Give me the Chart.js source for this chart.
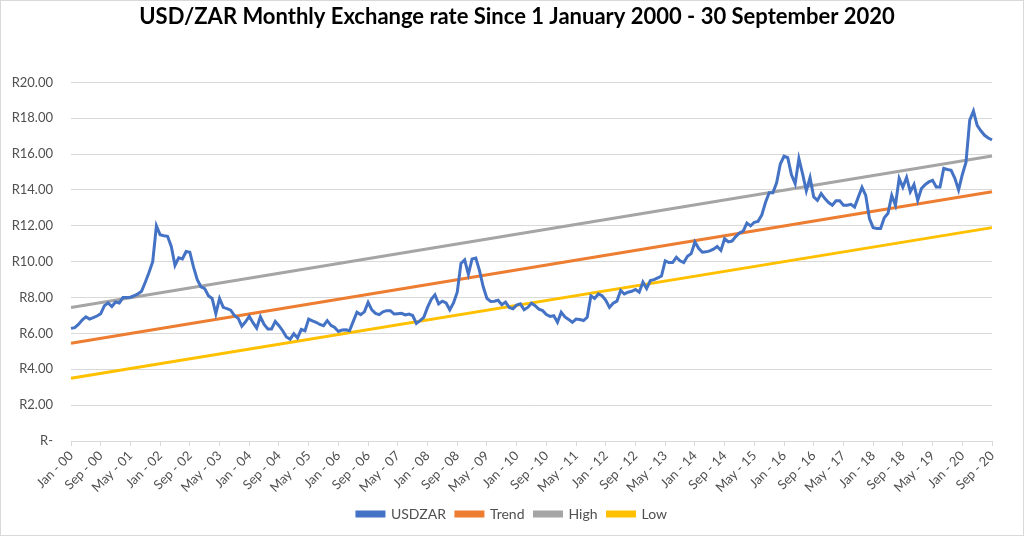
<!DOCTYPE html>
<html>
<head>
<meta charset="utf-8">
<title>USD/ZAR Monthly Exchange rate</title>
<script src="https://cdn.jsdelivr.net/npm/chart.js@4.4.0/dist/chart.umd.min.js"></script>
<style>
  html, body { margin: 0; padding: 0; background: #fff; }
  #wrap { position: relative; width: 1024px; height: 536px; box-sizing: border-box; border: 1px solid #d9d9d9; }
</style>
</head>
<body>
<div id="wrap"><canvas id="chart"></canvas></div>
<script>
'use strict';

// Month names for the category labels
let monthNames = ['Jan', 'Feb', 'Mar', 'Apr', 'May', 'Jun', 'Jul', 'Aug', 'Sep', 'Oct', 'Nov', 'Dec'];
let firstYear = 2000;

// USD/ZAR month end rate, Jan 2000 - Sep 2020
let usdzar = [
  6.28, 6.32, 6.50, 6.75, 6.92, 6.80, 6.88, 6.97, 7.10, 7.55, 7.70, 7.50,
  7.75, 7.70, 8.00, 8.00, 8.02, 8.10, 8.20, 8.35, 8.85, 9.40, 10.00, 12.00,
  11.50, 11.45, 11.42, 10.85, 9.80, 10.22, 10.15, 10.57, 10.53, 9.70, 9.00, 8.60,
  8.50, 8.10, 7.95, 7.10, 7.95, 7.45, 7.38, 7.30, 7.00, 6.85, 6.40, 6.65,
  6.95, 6.60, 6.30, 6.93, 6.50, 6.25, 6.25, 6.67, 6.43, 6.15, 5.80, 5.68,
  5.98, 5.75, 6.22, 6.15, 6.80, 6.70, 6.62, 6.50, 6.43, 6.71, 6.45, 6.33,
  6.11, 6.19, 6.20, 6.15, 6.67, 7.18, 7.05, 7.20, 7.73, 7.31, 7.12, 7.05,
  7.20, 7.27, 7.27, 7.08, 7.10, 7.12, 7.03, 7.08, 7.00, 6.56, 6.71, 6.90,
  7.45, 7.90, 8.15, 7.65, 7.80, 7.70, 7.32, 7.70, 8.30, 9.90, 10.10, 9.30,
  10.15, 10.20, 9.50, 8.60, 7.95, 7.78, 7.80, 7.85, 7.60, 7.75, 7.45, 7.38,
  7.58, 7.65, 7.32, 7.45, 7.68, 7.55, 7.35, 7.27, 7.05, 6.95, 6.99, 6.62,
  7.18, 6.92, 6.78, 6.62, 6.80, 6.78, 6.72, 6.90, 8.10, 7.95, 8.20, 8.10,
  7.85, 7.45, 7.68, 7.80, 8.40, 8.20, 8.30, 8.35, 8.45, 8.30, 8.86, 8.50,
  8.95, 9.00, 9.10, 9.20, 10.05, 9.95, 9.95, 10.25, 10.05, 9.95, 10.30, 10.45,
  11.10, 10.75, 10.53, 10.55, 10.60, 10.70, 10.85, 10.63, 11.28, 11.10, 11.15, 11.40,
  11.60, 11.70, 12.15, 12.00, 12.20, 12.25, 12.60, 13.30, 13.85, 13.85, 14.40, 15.45,
  15.88, 15.80, 14.85, 14.35, 15.75, 14.90, 13.95, 14.69, 13.61, 13.42, 13.80, 13.52,
  13.30, 13.15, 13.40, 13.40, 13.15, 13.15, 13.20, 13.05, 13.60, 14.15, 13.70, 12.40,
  11.90, 11.85, 11.85, 12.45, 12.70, 13.70, 13.15, 14.65, 14.15, 14.70, 13.90, 14.30,
  13.42, 14.08, 14.30, 14.45, 14.54, 14.17, 14.17, 15.20, 15.14, 15.10, 14.65, 14.00,
  14.85, 15.55, 17.90, 18.40, 17.60, 17.30, 17.05, 16.90, 16.80
];

// Straight lines: value at the first and the last month
let trendEnds = [5.45, 13.90];
let highEnds = [7.45, 15.90];
let lowEnds = [3.50, 11.90];

// Y axis ticks
let yMin = 0;
let yMax = 20;
let yStep = 2;

// Show every 8th month label on the x axis
let labelEvery = 8;

// Build the month labels, e.g. "Jan - 00"
let categories = [];
for (let i = 0; i < usdzar.length; i++) {
  let year = firstYear + Math.floor(i / 12);
  let yy = String(year % 100).padStart(2, '0');
  categories.push(`${monthNames[i % 12]} - ${yy}`);
}

// Two point line from first to last category
function endLine(ends) {
  return [
    { x: categories[0], y: ends[0] },
    { x: categories[categories.length - 1], y: ends[1] }
  ];
}

function lineSet(label, data, color) {
  return {
    label: label,
    data: data,
    borderColor: color,
    backgroundColor: color,
    borderWidth: 3,
    pointRadius: 0,
    tension: 0,
    fill: false
  };
}

// Center the title and legend on the whole canvas, not only the padded part
const centerBoxes = {
  id: 'centerBoxes',
  afterLayout(chart) {
    chart.legend.left = 0;
    chart.legend.right = chart.width;
    chart.legend.width = chart.width;
    chart.titleBlock.left = 10;
    chart.titleBlock.right = chart.width;
    chart.titleBlock.width = chart.width - 10;
  }
};

Chart.defaults.font.family = 'Lato, "Open Sans", sans-serif';
Chart.defaults.color = '#505050';

const ctx = document.getElementById('chart').getContext('2d');

const chart = new Chart(ctx, {
  type: 'line',
  data: {
    labels: categories,
    datasets: [
      lineSet('USDZAR', usdzar, '#4472C4'),
      lineSet('Trend', endLine(trendEnds), '#ED7D31'),
      lineSet('High', endLine(highEnds), '#A5A5A5'),
      lineSet('Low', endLine(lowEnds), '#FFC000')
    ]
  },
  plugins: [centerBoxes],
  options: {
    responsive: true,
    maintainAspectRatio: false,
    animation: false,
    layout: {
      padding: { left: 0, right: 31, top: 0, bottom: 4 }
    },
    plugins: {
      title: {
        display: true,
        text: 'USD/ZAR Monthly Exchange rate Since 1 January 2000 - 30 September 2020',
        color: '#000000',
        font: { size: 22, weight: 'bold' },
        padding: { top: 3, bottom: 52 }
      },
      legend: {
        position: 'bottom',
        labels: {
          boxWidth: 27,
          boxHeight: 4,
          padding: 10,
          color: '#505050',
          font: { size: 14 }
        }
      },
      tooltip: { enabled: false }
    },
    scales: {
      x: {
        offset: false,
        grid: {
          drawOnChartArea: false,
          drawTicks: true,
          tickLength: 5,
          color: '#d9d9d9'
        },
        border: { color: '#d9d9d9' },
        ticks: {
          autoSkip: false,
          minRotation: 45,
          maxRotation: 45,
          padding: 2,
          font: { size: 13 },
          callback: function (value, index) {
            if (index % labelEvery === 0) {
              return categories[index];
            }
            return null;
          }
        },
        afterFit: function (scale) {
          scale.height = 56;
        }
      },
      y: {
        min: yMin,
        max: yMax,
        grid: {
          color: '#d9d9d9',
          drawTicks: false
        },
        border: { display: false },
        ticks: {
          stepSize: yStep,
          padding: 18,
          font: { size: 13 },
          callback: function (value) {
            if (value === 0) {
              return 'R-';
            }
            return 'R' + value.toFixed(2);
          }
        },
        afterFit: function (scale) {
          scale.width = 70;
        }
      }
    }
  }
});
</script>
</body>
</html>
